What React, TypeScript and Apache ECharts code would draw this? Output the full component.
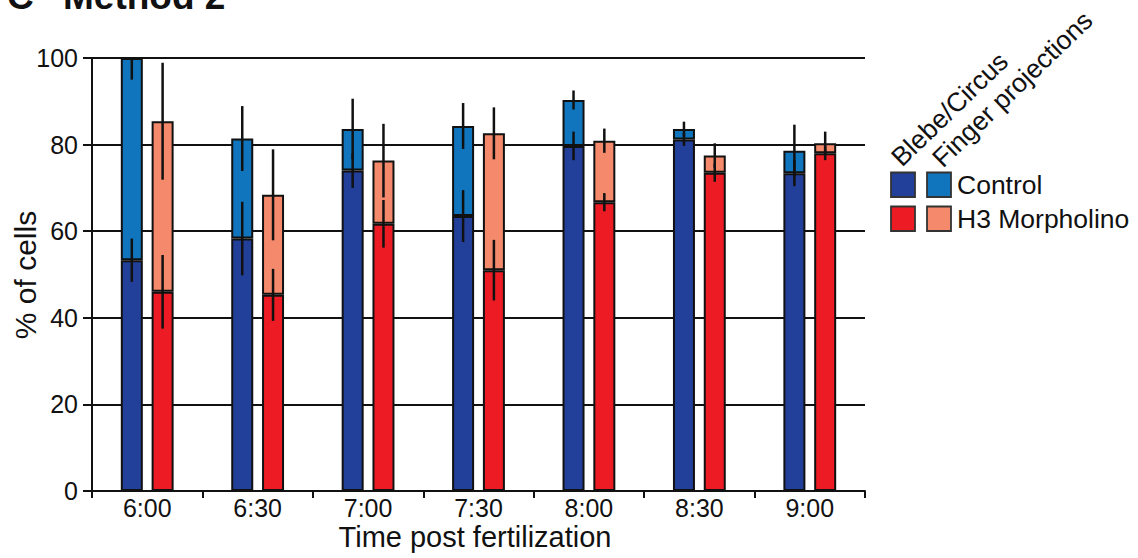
import React, { useEffect, useRef } from 'react';
import * as echarts from 'echarts';

const categories = ['6:00', '6:30', '7:00', '7:30', '8:00', '8:30', '9:00'];
const yTicks = [0, 20, 40, 60, 80, 100];

// Control: Blebe/Circus portion and total (Blebe + Finger projections)
const controlBlebe = [53.3, 58.3, 74, 63.5, 79.7, 81.2, 73.4];
const controlTotal = [100, 81.4, 83.6, 84.3, 90.3, 83.6, 78.6];
const controlBlebeErr = [5, 8.5, 4, 6, 3.3, 1.5, 3];
const controlTotalErr = [5, 7.5, 7, 5.3, 2.2, 1.7, 6];

// H3 Morpholino
const h3Blebe = [46, 45.3, 61.7, 51, 66.7, 73.5, 78];
const h3Total = [85.4, 68.4, 76.3, 82.6, 80.9, 77.5, 80.3];
const h3BlebeErr = [8.5, 6, 5.5, 7, 2.1, 2.1, 1.6];
const h3TotalErr = [13.5, 10.5, 8.5, 6, 2.8, 2.8, 2.7];

const groups = ['Control', 'H3 Morpholino'];
const kinds = ['Blebe/Circus', 'Finger projections'];
const colors = {
  controlBlebe: '#22409A',
  controlFinger: '#1075BD',
  h3Blebe: '#ED1C24',
  h3Finger: '#F4896B',
};

const FONT = "'Liberation Sans', Arial, Helvetica, sans-serif";

export default function App() {
  const ref = useRef<HTMLDivElement>(null);

  useEffect(() => {
    document.body.style.margin = '0';
    const chart = echarts.init(ref.current!, null, { renderer: 'svg' });

    const controlFinger = controlTotal.map((t, i) => +(t - controlBlebe[i]).toFixed(2));
    const h3Finger = h3Total.map((t, i) => +(t - h3Blebe[i]).toFixed(2));

    const barStyle = (c: string) => ({ color: c, borderColor: '#111', borderWidth: 2 });
    const BW = 22;
    const OFF = 15.4;

    const errSeries = (vals: number[], errs: number[], offset: number) => ({
      type: 'custom',
      clip: true,
      z: 10,
      silent: true,
      data: vals.map((v, i) => [i, v, errs[i]]),
      encode: { x: 0, y: 1 },
      renderItem: (_p: any, api: any) => {
        const i = api.value(0);
        const v = api.value(1);
        const e = api.value(2);
        const a = api.coord([i, v + e]);
        const b = api.coord([i, v - e]);
        return {
          type: 'line',
          shape: { x1: a[0] + offset, y1: a[1], x2: b[0] + offset, y2: b[1] },
          style: { stroke: '#111', lineWidth: 2.5 },
        };
      },
    });

    const legendColors = [
      [colors.controlBlebe, colors.controlFinger],
      [colors.h3Blebe, colors.h3Finger],
    ];

    const legendGraphics: any[] = [];
    groups.forEach((g, r) => {
      legendColors[r].forEach((c, k) => {
        legendGraphics.push({
          type: 'rect',
          shape: { x: 891 + k * 36, y: 172.5 + r * 34, width: 24, height: 24.5 },
          style: { fill: c, stroke: '#333', lineWidth: 1.8 },
        });
      });
      legendGraphics.push({
        type: 'text',
        x: 957,
        y: 185 + r * 34,
        style: { text: g, fontSize: 26.5, fontFamily: FONT, fill: '#111', align: 'left', verticalAlign: 'middle' },
      });
    });
    kinds.forEach((k, i) => {
      legendGraphics.push({
        type: 'text',
        x: i === 0 ? 905 : 946,
        y: i === 0 ? 171 : 172,
        rotation: (44 * Math.PI) / 180,
        style: { text: k, fontSize: 26.5, fontFamily: FONT, fill: '#111', align: 'left', verticalAlign: 'bottom' },
      });
    });

    const option: any = {
      animation: false,
      backgroundColor: '#fff',
      textStyle: { fontFamily: FONT },
      grid: { left: 92, right: 273, top: 58, bottom: 67, containLabel: false },
      xAxis: {
        type: 'category',
        data: categories,
        axisLine: { lineStyle: { color: '#111', width: 2 } },
        axisTick: { show: true, length: 7, lineStyle: { color: '#111', width: 2 } },
        axisLabel: { color: '#111', fontSize: 25, fontFamily: FONT, margin: 4 },
        splitLine: { show: false },
      },
      yAxis: {
        type: 'value',
        min: 0,
        max: 100,
        interval: 20,
        axisLine: { show: true, lineStyle: { color: '#111', width: 2 } },
        axisTick: { show: true, length: 9, lineStyle: { color: '#111', width: 2 } },
        axisLabel: {
          color: '#111',
          fontSize: 25,
          fontFamily: FONT,
          margin: 14,
          formatter: (v: number) => (yTicks.includes(v) ? String(v) : ''),
        },
        splitLine: { show: true, lineStyle: { color: '#111', width: 2 } },
      },
      series: [
        { name: 'Control Blebe/Circus', type: 'bar', stack: 'control', barWidth: BW, barGap: '40%', data: controlBlebe, itemStyle: barStyle(colors.controlBlebe) },
        { name: 'Control Finger projections', type: 'bar', stack: 'control', barWidth: BW, barGap: '40%', data: controlFinger, itemStyle: barStyle(colors.controlFinger) },
        { name: 'H3 Blebe/Circus', type: 'bar', stack: 'h3', barWidth: BW, barGap: '40%', data: h3Blebe, itemStyle: barStyle(colors.h3Blebe) },
        { name: 'H3 Finger projections', type: 'bar', stack: 'h3', barWidth: BW, barGap: '40%', data: h3Finger, itemStyle: barStyle(colors.h3Finger) },
        errSeries(controlBlebe, controlBlebeErr, -OFF),
        errSeries(controlTotal, controlTotalErr, -OFF),
        errSeries(h3Blebe, h3BlebeErr, OFF),
        errSeries(h3Total, h3TotalErr, OFF),
      ],
      graphic: [
        {
          type: 'text',
          x: 7,
          y: -4,
          style: { text: 'C', fontSize: 37, fontWeight: 'bold', fontFamily: FONT, fill: '#111', verticalAlign: 'middle' },
        },
        {
          type: 'text',
          x: 63,
          y: -4,
          style: { text: 'Method 2', fontSize: 37, fontWeight: 'bold', fontFamily: FONT, fill: '#111', verticalAlign: 'middle' },
        },
        {
          type: 'text',
          x: 25,
          y: 275,
          rotation: Math.PI / 2,
          style: { text: '% of cells', fontSize: 30, fontFamily: FONT, fill: '#111', align: 'center', verticalAlign: 'middle' },
        },
        {
          type: 'text',
          x: 475,
          y: 537,
          style: { text: 'Time post fertilization', fontSize: 29, fontFamily: FONT, fill: '#111', align: 'center', verticalAlign: 'middle' },
        },
        ...legendGraphics,
      ],
    };

    chart.setOption(option);
    return () => chart.dispose();
  }, []);

  return <div ref={ref} style={{ width: 1138, height: 558 }} />;
}
